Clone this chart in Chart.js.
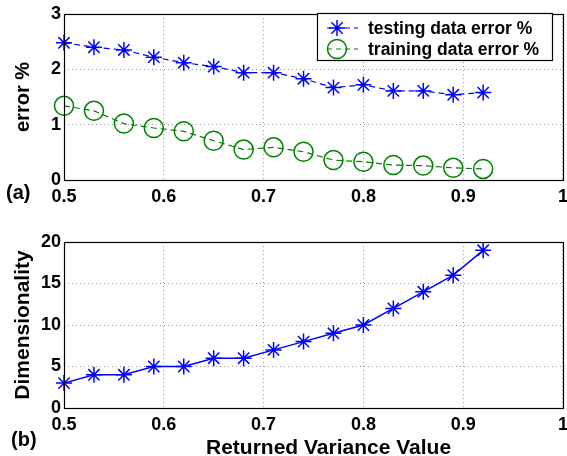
<!DOCTYPE html>
<html>
<head>
<meta charset="utf-8">
<script src="https://cdn.jsdelivr.net/npm/chart.js@4.4.1/dist/chart.umd.min.js"></script>
<style>
  body { margin: 0; background: #fff; width: 567px; height: 456px; position: relative; overflow: hidden; }
  canvas { position: absolute; left: 0; }
  .tag { position: absolute; font: bold 20px 'Liberation Sans', Arial, sans-serif; line-height: 24px; color: #000; white-space: nowrap; }
</style>
</head>
<body>
<!-- canvases are a bit wider than the page so the plot box reaches x=563 and the "1" label gets cut at the edge -->
<canvas id="errChart" width="574" height="215" style="top:0"></canvas>
<canvas id="dimChart" width="574" height="241" style="top:215px"></canvas>
<div class="tag" style="left:6px; top:180px">(a)</div>
<div class="tag" style="left:11px; top:427px">(b)</div>
<div class="tag" style="left:206px; top:435px; font-size:21px">Returned Variance Value</div>
<script>
// data
const variance = [0.50, 0.53, 0.56, 0.59, 0.62, 0.65, 0.68, 0.71, 0.74, 0.77, 0.80, 0.83, 0.86, 0.89, 0.92];
const testingError = [2.48, 2.40, 2.35, 2.22, 2.12, 2.05, 1.94, 1.94, 1.83, 1.67, 1.72, 1.61, 1.61, 1.54, 1.58];
const trainingError = [1.34, 1.25, 1.02, 0.94, 0.88, 0.71, 0.55, 0.59, 0.51, 0.36, 0.33, 0.27, 0.26, 0.22, 0.20];
const dimensionality = [3, 4, 4, 5, 5, 6, 6, 7, 8, 9, 10, 12, 14, 16, 19];
const legendLabels = ['testing data error %', 'training data error %'];

const BLUE = '#0000ff';
const GREEN = '#008000';
const FONT = "'Liberation Sans', Arial, sans-serif";

Chart.defaults.font.family = FONT;
Chart.defaults.font.weight = 'bold';
Chart.defaults.font.size = 18;
Chart.defaults.color = '#000';

const toPoints = (ys) => variance.map((x, i) => ({ x, y: ys[i] }));

// full black frame round the plot area, like matlab's box on
const boxPlugin = {
    id: 'box',
    afterDatasetsDraw(chart) {
        const { ctx, chartArea: a } = chart;
        ctx.save();
        ctx.strokeStyle = '#000';
        ctx.lineWidth = 1.2;
        ctx.strokeRect(Math.round(a.left) + 0.5, Math.round(a.top) + 0.5,
            Math.round(a.right - a.left), Math.round(a.bottom - a.top));
        ctx.restore();
    }
};

// legend box sits inside the top plot
const legendPlugin = {
    id: 'boxLegend',
    afterDraw(chart) {
        const ctx = chart.ctx;
        const x0 = 317, y0 = 13, w = 235, h = 47;
        ctx.save();
        ctx.fillStyle = '#fff';
        ctx.fillRect(x0, y0, w, h);
        ctx.strokeStyle = '#000';
        ctx.lineWidth = 1.2;
        ctx.strokeRect(x0 + 0.5, y0 + 0.5, w, h);

        chart.data.datasets.forEach((ds, i) => {
            const y = y0 + 15 + i * 21;
            ctx.strokeStyle = ds.borderColor;
            ctx.lineWidth = 1.2;
            ctx.setLineDash([5, 4]);
            ctx.beginPath();
            ctx.moveTo(x0 + 10, y);
            ctx.lineTo(x0 + 41, y);
            ctx.stroke();
            ctx.setLineDash([]);
            ctx.fillStyle = 'rgba(0,0,0,0)';
            ctx.lineWidth = ds.pointBorderWidth;
            Chart.helpers.drawPoint(ctx, {
                pointStyle: ds.pointStyle,
                radius: ds.pointRadius,
                rotation: 0,
                borderWidth: ds.pointBorderWidth
            }, x0 + 20, y);
            ctx.fillStyle = '#000';
            ctx.font = 'bold 17.5px ' + FONT;
            ctx.textBaseline = 'middle';
            ctx.fillText(legendLabels[i], x0 + 51, y + 1);
        });
        ctx.restore();
    }
};

const gridStyle = {
    color: '#999',
    lineWidth: 1,
    drawTicks: false
};

function xAxis(height) {
    return {
        type: 'linear',
        min: 0.5,
        max: 1,
        border: { display: false, dash: [1, 3] },
        grid: gridStyle,
        ticks: {
            stepSize: 0.1,
            padding: 6,
            maxRotation: 0,
            callback: v => (Math.abs(v - 1) < 1e-9 ? '1' : v.toFixed(1))
        },
        afterFit: s => { s.height = height; }
    };
}

function yAxis(max, step, title, titleSize) {
    return {
        min: 0,
        max: max,
        border: { display: false, dash: [1, 3] },
        grid: gridStyle,
        ticks: { stepSize: step, padding: 3 },
        title: {
            display: true,
            text: title,
            font: { size: titleSize, weight: 'bold' },
            padding: { top: 11, bottom: 0 }
        },
        afterFit: s => { s.width = 64; }
    };
}

new Chart(document.getElementById('errChart'), {
    type: 'line',
    data: {
        datasets: [{
            label: legendLabels[0],
            data: toPoints(testingError),
            borderColor: BLUE,
            backgroundColor: 'rgba(0,0,0,0)',
            borderWidth: 1.2,
            borderDash: [6, 4],
            pointStyle: 'star',
            pointRadius: 8,
            pointBorderWidth: 1.5,
            pointBorderColor: BLUE,
            clip: false
        }, {
            label: legendLabels[1],
            data: toPoints(trainingError),
            borderColor: GREEN,
            backgroundColor: 'rgba(0,0,0,0)',
            borderWidth: 1.2,
            borderDash: [6, 4],
            pointStyle: 'circle',
            pointRadius: 9.5,
            pointBorderWidth: 1.5,
            pointBorderColor: GREEN,
            pointBackgroundColor: 'rgba(0,0,0,0)',
            clip: false
        }]
    },
    options: {
        responsive: false,
        animation: false,
        layout: { padding: { top: 14, right: 0, left: 0, bottom: 0 } },
        plugins: { legend: { display: false }, tooltip: { enabled: false } },
        scales: {
            x: xAxis(35),
            y: yAxis(3, 1, 'error %', 20)
        }
    },
    plugins: [boxPlugin, legendPlugin]
});

new Chart(document.getElementById('dimChart'), {
    type: 'line',
    data: {
        datasets: [{
            label: 'Dimensionality',
            data: toPoints(dimensionality),
            borderColor: BLUE,
            backgroundColor: 'rgba(0,0,0,0)',
            borderWidth: 1.5,
            pointStyle: 'star',
            pointRadius: 8,
            pointBorderWidth: 1.5,
            pointBorderColor: BLUE,
            clip: false
        }]
    },
    options: {
        responsive: false,
        animation: false,
        layout: { padding: { top: 27, right: 0, left: 0, bottom: 0 } },
        plugins: { legend: { display: false }, tooltip: { enabled: false } },
        scales: {
            x: xAxis(48),
            y: yAxis(20, 5, 'Dimensionality', 21)
        }
    },
    plugins: [boxPlugin]
});
</script>
</body>
</html>
